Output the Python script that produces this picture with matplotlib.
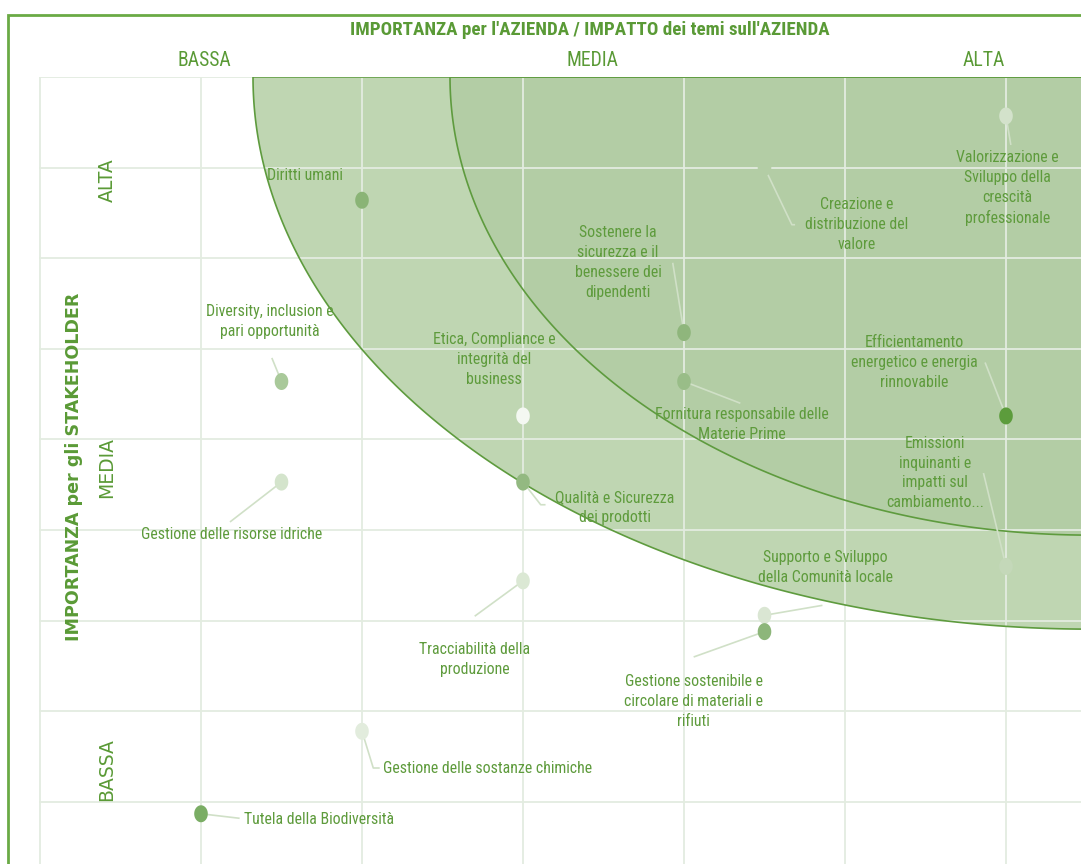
import matplotlib
matplotlib.use("Agg")
import matplotlib.pyplot as plt
import numpy as np
from matplotlib.patches import Polygon, Rectangle
from matplotlib.path import Path

# ---------------- data ----------------
topics = [
    "Diritti umani",
    "Valorizzazione e\nSviluppo della\ncrescità\nprofessionale",
    "Creazione e\ndistribuzione del\nvalore",
    "Sostenere la\nsicurezza e il\nbenessere dei\ndipendenti",
    "Efficientamento\nenergetico e energia\nrinnovabile",
    "Diversity, inclusion e\npari opportunità",
    "Etica, Compliance e\nintegrità del\nbusiness",
    "Fornitura responsabile delle\nMaterie Prime",
    "Gestione delle risorse idriche",
    "Qualità e Sicurezza\ndei prodotti",
    "Emissioni\ninquinanti e\nimpatti sul\ncambiamento...",
    "Supporto e Sviluppo\ndella Comunità locale",
    "Tracciabilità della\nproduzione",
    "Gestione sostenibile e\ncircolare di materiali e\nrifiuti",
    "Gestione delle sostanze chimiche",
    "Tutela della Biodiversità",
]
# importance for the company (x) and for stakeholders (y)
importanza_azienda = [2.0, 6.0, 4.5, 4.0, 6.0, 1.5, 3.0, 4.0, 1.5, 3.0, 6.0, 4.5, 3.0, 4.5, 2.0, 1.0]
importanza_stakeholder = [7.64, 8.57, 8.0, 6.18, 5.26, 5.64, 5.26, 5.64, 4.53, 4.53, 3.60, 3.06, 3.44, 2.88, 1.78, 0.87]

col_labels = ["BASSA", "MEDIA", "ALTA"]
row_labels = ["ALTA", "MEDIA", "BASSA"]
title = "IMPORTANZA per l'AZIENDA / IMPATTO dei temi sull'AZIENDA"
ylabel = "IMPORTANZA per gli STAKEHOLDER"

# ---------------- style / layout ----------------
point_colors = ["#8ab476", "#d3e2cb", "#b3cda5", "#8fb67c", "#5c9c3c", "#a9c99a",
                "#f4f8f2", "#99bd88", "#d4e4cc", "#93b981", "#c4d8b9", "#dae6d3",
                "#dbe8d4", "#8db67a", "#e2ecdd", "#7aad64"]
# label anchor (x, y, ha)
label_layout = [
    (1.41, 7.91, "left"), (6.01, 7.77, "center"), (5.07, 7.37, "center"),
    (3.59, 6.95, "center"), (5.43, 5.85, "center"), (1.43, 6.30, "center"),
    (2.82, 5.88, "center"), (4.36, 5.17, "center"), (1.19, 3.95, "center"),
    (3.57, 4.25, "center"), (5.56, 4.63, "center"), (4.88, 3.59, "center"),
    (2.70, 2.57, "center"), (4.06, 2.11, "center"), (2.13, 1.37, "left"),
    (1.27, 0.81, "left"),
]
# leader line vertices (beyond the point itself)
leaders = [
    [], [(6.03, 8.25)], [(4.67, 7.37), (4.69, 7.37)], [(3.93, 6.95)],
    [(5.87, 5.85)], [(1.44, 5.90)], [], [(4.35, 5.40)], [(1.18, 4.09)],
    [(3.11, 4.28), (3.14, 4.28)], [(5.86, 4.63)], [(4.86, 3.17)],
    [(2.70, 3.05)], [(4.06, 2.60)], [(2.07, 1.375), (2.11, 1.375)],
    [(1.24, 0.82)],
]

GREEN = "#5e9b3c"
HEAD = "#5a9a36"
W, H = 1081, 864
fig = plt.figure(figsize=(W / 100, H / 100), dpi=100)
renderer = fig.canvas.get_renderer()


def fit_width(t, target_px):
    """Scale the font size of a text so that its rendered width matches target_px."""
    for _ in range(3):
        bb = t.get_window_extent(renderer=renderer)
        w = bb.width if t.get_rotation() == 0 else bb.height
        t.set_fontsize(t.get_fontsize() * target_px / w)
    return t.get_fontsize()


# plot area in pixels
left_px, top_px = 39, 77
ax = fig.add_axes([left_px / W, 0, 1 - left_px / W, 1 - top_px / H])
xmax = (W - 40) / 161.0
ymin = 1 + (802 - 864) / 90.6
ax.set_xlim(-(40 - left_px) / 161.0, xmax)
ax.set_ylim(ymin, 9.0)

# grid
ax.set_xticks(range(0, 7))
ax.set_yticks(range(1, 10))
ax.tick_params(length=0, labelbottom=False, labelleft=False)
for s in ax.spines.values():
    s.set_visible(False)
ax.set_axisbelow(False)
ax.grid(True, color="#e3ece0", lw=1.3)


def quarter_ellipse(cx, cy, a, b, n=200):
    t = np.linspace(np.pi, 1.5 * np.pi, n)
    xs = cx + a * np.cos(t)
    ys = cy + b * np.sin(t)
    return list(zip(xs, ys)) + [(cx + 1, cy - b), (cx + 1, cy)]


cx = (1090 - 40) / 161.0
outer = quarter_ellipse(cx, 9.0, 837 / 161.0, 552 / 90.6)
inner = quarter_ellipse(cx, 9.0, 640 / 161.0, 458 / 90.6)
ax.add_patch(Polygon(outer, closed=True, fc="#bfd6b2", ec="none", zorder=1))
ax.add_patch(Polygon(inner, closed=True, fc="#b3cda5", ec="none", zorder=1.1))
ax.add_patch(Polygon(outer, closed=True, fc="none", ec="#5e9b3e", lw=1.2, zorder=3))
ax.add_patch(Polygon(inner, closed=True, fc="none", ec="#5e9b3e", lw=1.2, zorder=3))

# leader lines
for x, y, path in zip(importanza_azienda, importanza_stakeholder, leaders):
    if path:
        xs = [x] + [p[0] for p in path]
        ys = [y] + [p[1] for p in path]
        ax.plot(xs, ys, color="#d0e0c7", lw=1.2, zorder=3.5, solid_capstyle="butt")

# points (slightly tall ovals)
tt = np.linspace(0, 2 * np.pi, 40)
oval = Path(np.c_[0.8 * np.cos(tt), np.sin(tt)], closed=True)
ax.scatter(importanza_azienda, importanza_stakeholder, s=150, c=point_colors,
           marker=oval, edgecolors="none", zorder=4)

label_font = ["Roboto Condensed", "Liberation Sans Narrow", "Roboto", "DejaVu Sans"]
texts = []
for name, (lx, ly, ha) in zip(topics, label_layout):
    texts.append(ax.text(lx, ly, name, ha=ha, va="center", fontsize=10, color=GREEN,
                         family=label_font, zorder=5))
# size the labels close to the original ("Gestione delle risorse idriche" ~ 171 px)
fs = fit_width(texts[topics.index("Gestione delle risorse idriche")], 183)
for t in texts:
    t.set_fontsize(fs)
    t.set_linespacing(1.31 * 20.5 / (fs * 100 / 72) / 1.2)

# headings
tt_ = fig.text(590 / W, 1 - 30 / H, title, ha="center", va="center", fontsize=14,
               fontweight="bold", color=HEAD, family=label_font)
fit_width(tt_, 480)
cols = []
for lab, px in zip(col_labels, [204, 592, 984]):
    cols.append(fig.text(px / W, 1 - 61 / H, lab, ha="center", va="center",
                         fontsize=14, color=HEAD, family=label_font))
cfs = fit_width(cols[col_labels.index("MEDIA")], 52)
for c in cols:
    c.set_fontsize(cfs)
for lab, py in zip(row_labels, [180, 468, 770]):
    fig.text(107 / W, 1 - py / H, lab, ha="center", va="center", fontsize=13.5,
             rotation=90, color=HEAD, family="DejaVu Sans")
fig.text(74 / W, 1 - 467 / H, ylabel, ha="center", va="center", fontsize=12.6,
         rotation=90, fontweight="bold", color=HEAD, family="DejaVu Sans")

# frame
fig.add_artist(Rectangle((8 / W, -0.05), 1.2, 1 - 15 / H + 0.05,
                         transform=fig.transFigure, fill=False,
                         ec="#6aaa45", lw=2))

fig.savefig("out.png", dpi=100)
